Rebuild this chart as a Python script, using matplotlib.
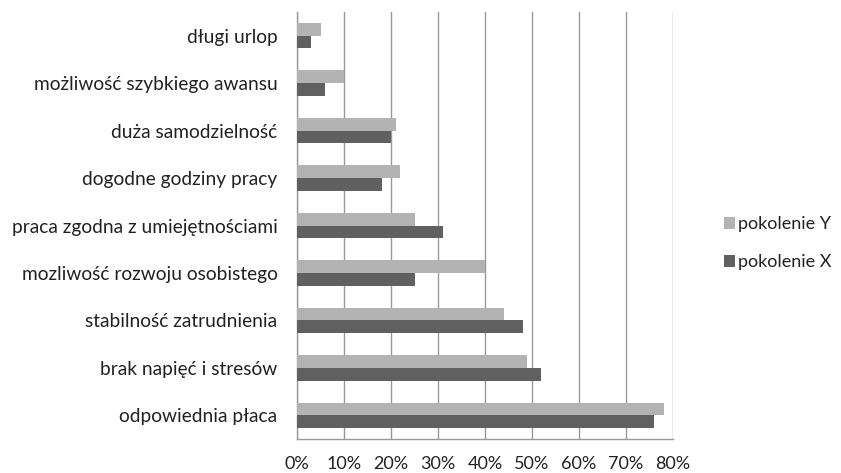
import numpy as np
import matplotlib
matplotlib.use('Agg')
from matplotlib import pyplot as plt

plt.rcParams['font.family'] = ['Lato', 'DejaVu Sans']

# kategorie od dołu do góry
kategorie = ['odpowiednia płaca', 'brak napięć i stresów', 'stabilność zatrudnienia',
             'mozliwość rozwoju osobistego', 'praca zgodna z umiejętnościami',
             'dogodne godziny pracy', 'duża samodzielność',
             'możliwość szybkiego awansu', 'długi urlop']
pokolenie_y = [78, 49, 44, 40, 25, 22, 21, 10, 5]
pokolenie_x = [76, 52, 48, 25, 31, 18, 20, 6, 3]
ticki = [0, 10, 20, 30, 40, 50, 60, 70, 80]

fig = plt.figure(figsize=(8.41, 4.73), dpi=100)
ax = fig.add_axes([297/841, 1-439/473, 376/841, 427/473])

y = np.arange(len(kategorie))
h = 0.267
ax.barh(y + h/2, pokolenie_y, height=h, color='#b3b3b3', label='pokolenie Y', zorder=3)
ax.barh(y - h/2, pokolenie_x, height=h, color='#606060', label='pokolenie X', zorder=3)

ax.set_xlim(0, 80)
ax.set_ylim(-0.5, len(kategorie) - 0.5)
ax.set_xticks(ticki)
ax.set_xticklabels(['%d%%' % t for t in ticki], fontsize=13)
ax.set_yticks(y)
ax.set_yticklabels(kategorie, fontsize=13.8)
ax.tick_params(axis='both', length=0, colors='#222222')
ax.tick_params(axis='y', pad=14)
ax.tick_params(axis='x', pad=12)
ax.xaxis.grid(True, color='#999999', linewidth=1, zorder=0)

for s in ['top', 'right']:
    ax.spines[s].set_visible(False)
for s in ['left', 'bottom']:
    ax.spines[s].set_color('#999999')
    ax.spines[s].set_linewidth(1)

leg = fig.legend(loc='upper left', bbox_to_anchor=(708/841, 1-200/473), frameon=False,
                 fontsize=13, handlelength=0.6, handleheight=0.6, handletextpad=0.15,
                 labelspacing=1.22, labelcolor='#222222')

fig.savefig('out.png', dpi=100)
